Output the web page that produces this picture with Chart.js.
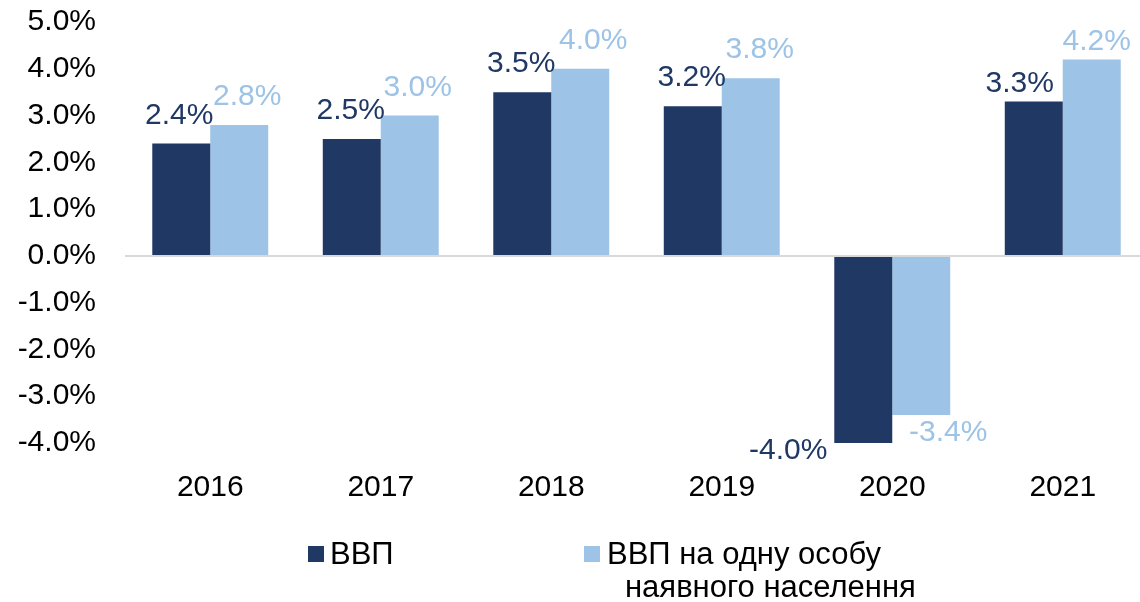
<!DOCTYPE html>
<html>
<head>
<meta charset="utf-8">
<script src="https://cdn.jsdelivr.net/npm/chart.js@4/dist/chart.umd.min.js"></script>
<style>
  body { margin: 0; background: #fff; overflow: hidden; }
  #wrap { width: 1140px; height: 602px; overflow: hidden; }
</style>
</head>
<body>
<div id="wrap"><canvas id="gdpChart" width="1150" height="602"></canvas></div>
<script>
// data
const years = ["2016", "2017", "2018", "2019", "2020", "2021"];
const gdp = [2.4, 2.5, 3.5, 3.2, -4.0, 3.3];
const gdpPerCapita = [2.8, 3.0, 4.0, 3.8, -3.4, 4.2];
const seriesNames = [["ВВП"], ["ВВП на одну особу", "наявного населення"]];
const yTicks = [-4, -3, -2, -1, 0, 1, 2, 3, 4, 5];

const DARK = "#203864";
const LIGHT = "#9DC3E6";
const FONT = '"Liberation Sans", Arial, sans-serif';

// hand nudges for the value labels, like the Excel original
const labelShift = [
    [[-2, 0], [-1, 0], [-1, 0], [-1, 0], [-75, -20], [-14, 10]],
    [[8, 0], [8, 0], [13, 0], [9, 0], [27, -10], [5, 10]]
];

const valueLabels = {
    id: "valueLabels",
    afterDatasetsDraw(chart) {
        const ctx = chart.ctx;
        ctx.save();
        ctx.font = "30px " + FONT;
        ctx.textAlign = "center";
        ctx.textBaseline = "middle";
        chart.data.datasets.forEach((ds, i) => {
            chart.getDatasetMeta(i).data.forEach((bar, j) => {
                const v = ds.data[j];
                const [dx, dy] = labelShift[i][j];
                const y = v >= 0 ? bar.y - 28 + dy : bar.y + 28 + dy;
                ctx.fillStyle = ds.backgroundColor;
                ctx.fillText(v.toFixed(1) + "%", bar.x + dx, y);
            });
        });
        ctx.restore();
    }
};

const bottomLegend = {
    id: "bottomLegend",
    afterDraw(chart) {
        const ctx = chart.ctx;
        const items = [
            { box: 308, text: 330, indent: 0 },
            { box: 584, text: 607, indent: 18 }
        ];
        ctx.save();
        ctx.font = "31px " + FONT;
        ctx.textBaseline = "alphabetic";
        chart.data.datasets.forEach((ds, i) => {
            const it = items[i];
            ctx.fillStyle = ds.backgroundColor;
            ctx.fillRect(it.box, 546, 16, 16);
            ctx.fillStyle = "#000";
            seriesNames[i].forEach((line, k) => {
                ctx.fillText(line, it.text + (k ? it.indent : 0), 564 + k * 33);
            });
        });
        ctx.restore();
    }
};

new Chart(document.getElementById("gdpChart"), {
    type: "bar",
    data: {
        labels: years,
        datasets: [
            {
                label: seriesNames[0].join(" "),
                data: gdp,
                backgroundColor: DARK,
                categoryPercentage: 0.68,
                barPercentage: 1.0
            },
            {
                label: seriesNames[1].join(" "),
                data: gdpPerCapita,
                backgroundColor: LIGHT,
                categoryPercentage: 0.68,
                barPercentage: 1.0
            }
        ]
    },
    options: {
        responsive: false,
        animation: false,
        layout: { padding: { top: 0, right: 2, left: 0, bottom: 0 } },
        plugins: {
            legend: { display: false },
            tooltip: { enabled: false }
        },
        scales: {
            x: {
                grid: { display: false },
                border: { display: false },
                ticks: { color: "#000", font: { family: FONT, size: 30 }, padding: 19 },
                afterFit(scale) { scale.height = 159; }
            },
            y: {
                min: -4,
                max: 5,
                afterBuildTicks(scale) { scale.ticks = yTicks.map(v => ({ value: v })); },
                border: { display: false },
                grid: {
                    drawTicks: false,
                    lineWidth: 2,
                    color: c => (c.tick && c.tick.value === 0 ? "#D9D9D9" : "rgba(0,0,0,0)")
                },
                ticks: {
                    color: "#000",
                    font: { family: FONT, size: 30 },
                    padding: 29,
                    callback: v => v.toFixed(1) + "%"
                },
                afterFit(scale) {
                    scale.width = 125;
                    scale.paddingTop = 22;
                    scale.paddingBottom = 0;
                }
            }
        }
    },
    plugins: [valueLabels, bottomLegend]
});
</script>
</body>
</html>
